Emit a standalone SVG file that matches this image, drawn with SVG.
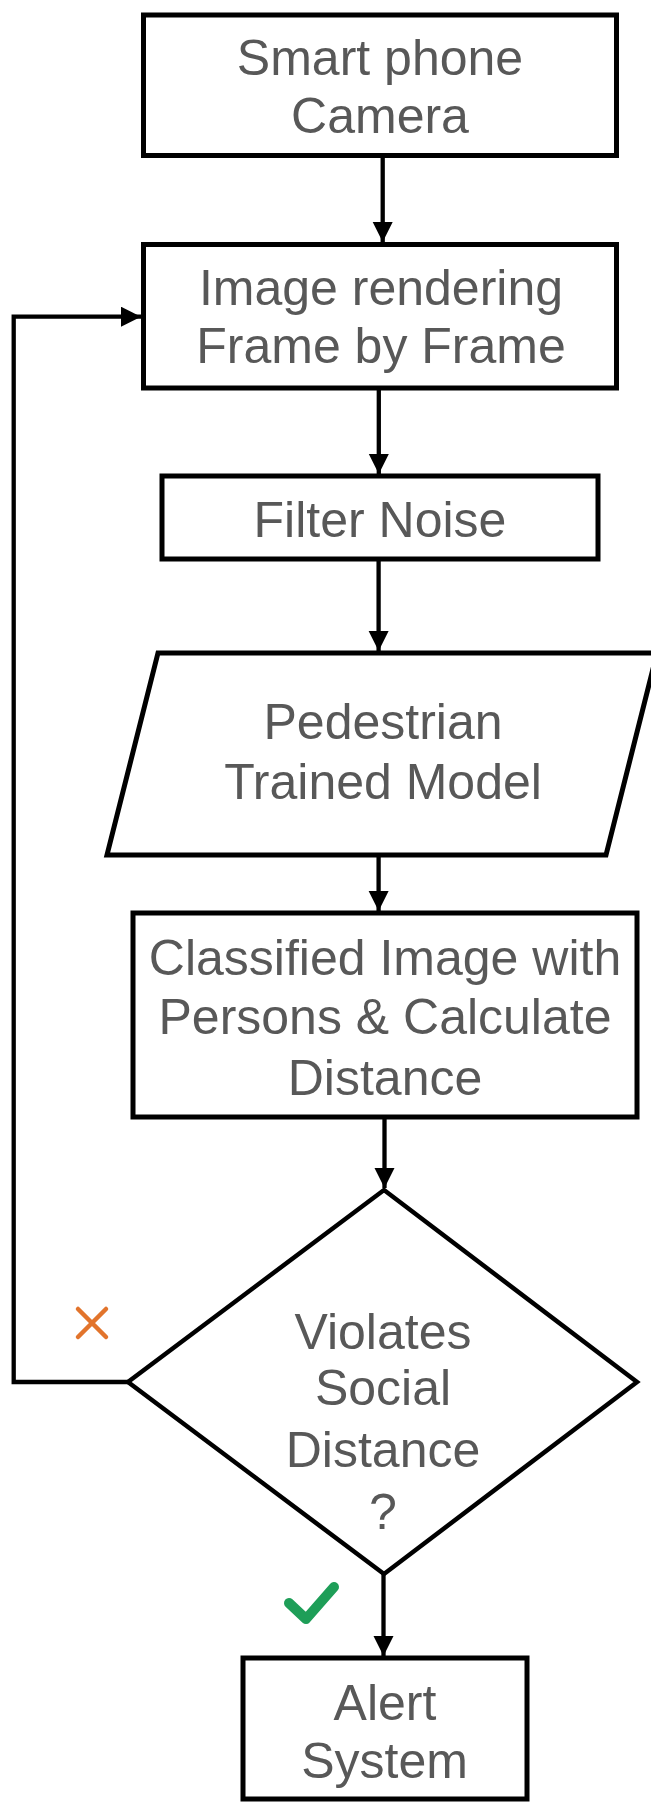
<svg xmlns="http://www.w3.org/2000/svg" width="651" height="1802" viewBox="0 0 651 1802">
<style>
.shape{fill:#ffffff;stroke:#000000;stroke-width:5;stroke-linejoin:miter}
.lbl{font-family:"Liberation Sans",Arial,sans-serif;font-size:50px;fill:#585858;text-anchor:middle}
.conn{fill:none;stroke:#000000;stroke-width:4.3}
</style>
<defs>
<marker id="ah" markerUnits="userSpaceOnUse" markerWidth="22" markerHeight="22" refX="20" refY="10" orient="auto">
<path d="M0,0 L20,10 L0,20 z" fill="#000000"/>
</marker>
</defs>
<rect x="0" y="0" width="651" height="1802" fill="#ffffff"/>
<g id="connectors">
<line class="conn" x1="382.7" y1="156" x2="382.7" y2="242" marker-end="url(#ah)"/>
<line class="conn" x1="378.8" y1="388" x2="378.8" y2="474" marker-end="url(#ah)"/>
<line class="conn" x1="378.6" y1="559" x2="378.6" y2="651" marker-end="url(#ah)"/>
<line class="conn" x1="378.6" y1="855" x2="378.6" y2="911" marker-end="url(#ah)"/>
<line class="conn" x1="384.5" y1="1117" x2="384.5" y2="1188" marker-end="url(#ah)"/>
<line class="conn" x1="383.5" y1="1574" x2="383.5" y2="1656" marker-end="url(#ah)"/>
<path class="conn" d="M128,1382 L13.7,1382 L13.7,316.7 L141,316.7" marker-end="url(#ah)"/>
</g>
<g id="node-camera">
<rect class="shape" x="143.5" y="15" width="473" height="140.5"/>
<text class="lbl" x="380" y="75">Smart phone</text>
<text class="lbl" x="380" y="133">Camera</text>
</g>
<g id="node-render">
<rect class="shape" x="143.5" y="244.5" width="473" height="143.5"/>
<text class="lbl" x="381" y="305">Image rendering</text>
<text class="lbl" x="381" y="363">Frame by Frame</text>
</g>
<g id="node-filter">
<rect class="shape" x="162" y="476" width="436" height="83"/>
<text class="lbl" x="380" y="536.5">Filter Noise</text>
</g>
<g id="node-model">
<polygon class="shape" points="158,653 657,653 606,855 107,855"/>
<text class="lbl" x="383" y="738.5">Pedestrian</text>
<text class="lbl" x="383" y="798.5">Trained Model</text>
</g>
<g id="node-classify">
<rect class="shape" x="133" y="913" width="504" height="204"/>
<text class="lbl" x="385" y="975">Classified Image with</text>
<text class="lbl" x="385" y="1033.5">Persons &amp; Calculate</text>
<text class="lbl" x="385" y="1095">Distance</text>
</g>
<g id="node-decision">
<polygon class="shape" points="384,1190 637,1382 384,1574 128,1382" style="stroke-width:4.5"/>
<text class="lbl" x="383" y="1348.5">Violates</text>
<text class="lbl" x="383" y="1405">Social</text>
<text class="lbl" x="383" y="1466.5">Distance</text>
<text class="lbl" x="383" y="1528.5">?</text>
</g>
<g id="mark-no">
<path d="M78,1309 L106,1337 M106,1309 L78,1337" fill="none" stroke="#e2742c" stroke-width="4.5" stroke-linecap="round"/>
</g>
<g id="mark-yes">
<path d="M289,1603 L306,1619 L334,1587" fill="none" stroke="#1e9e58" stroke-width="10" stroke-linecap="round" stroke-linejoin="round"/>
</g>
<g id="node-alert">
<rect class="shape" x="243" y="1658" width="284" height="141"/>
<text class="lbl" x="385" y="1720">Alert</text>
<text class="lbl" x="384.5" y="1778">System</text>
</g>
</svg>
